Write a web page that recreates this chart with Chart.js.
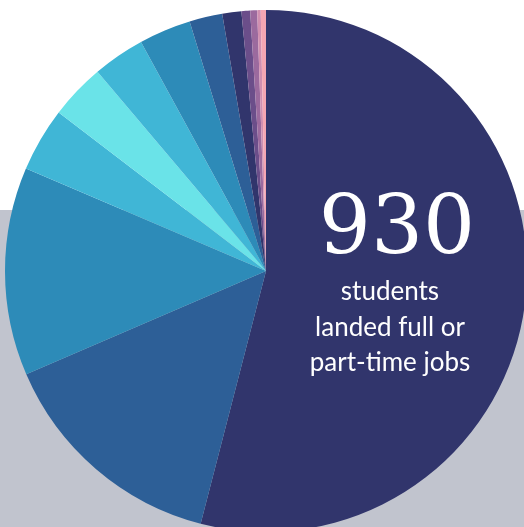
<!DOCTYPE html>
<html>
<head>
<meta charset="utf-8">
<script src="https://cdn.jsdelivr.net/npm/chart.js@4"></script>
<style>
    html, body { margin: 0; padding: 0; width: 524px; height: 527px; overflow: hidden; background: #ffffff; }
    #band { position: absolute; left: 0; top: 210px; width: 524px; height: 317px; background: #c1c4ce; }
    #wrap { position: absolute; left: 5px; top: 10px; width: 522px; height: 522px; }
    #total { position: absolute; left: 297px; top: 181px; width: 200px; text-align: center;
             font-family: "DejaVu Serif", serif; font-size: 82px; line-height: 90px; color: #ffffff; }
    #caption { position: absolute; left: 290px; top: 273px; width: 200px; text-align: center;
               font-family: "Lato", sans-serif; font-size: 26px; line-height: 35.5px; color: #ffffff; }
</style>
</head>
<body>
<div id="band"></div>
<div id="wrap"><canvas id="jobsChart" width="522" height="522"></canvas></div>
<div id="total">930</div>
<div id="caption">students<br>landed full or<br>part-time jobs</div>

<script>
// ----------------------
//  DATA
// ----------------------
const segments = ['Segment 1', 'Segment 2', 'Segment 3', 'Segment 4', 'Segment 5', 'Segment 6', 'Segment 7',
    'Segment 8', 'Segment 9', 'Segment 10', 'Segment 11', 'Segment 12', 'Segment 13'];
const students = [503, 135, 120, 37, 32, 30, 30, 19, 11, 5, 4, 2, 3];
const sliceColors = ['#31356c', '#2d5f97', '#2d8bb8', '#40b6d6', '#6ae3e8', '#40b6d6', '#2d8bb8',
    '#2d5f97', '#31356c', '#6b4e8a', '#9b6a9e', '#d08fb0', '#f4a6b3'];

// ----------------------
//  CHART
// ----------------------
let ctx = document.getElementById('jobsChart').getContext('2d');
let jobsChart = new Chart(ctx, {
    type: 'pie',
    data: {
        labels: segments,
        datasets: [{
            data: students,
            backgroundColor: sliceColors,
            borderWidth: 0,
        }]
    },
    options: {
        responsive: false,
        animation: false,
        devicePixelRatio: 1,
        layout: { padding: 0 },
        plugins: {
            legend: { display: false },
            tooltip: { enabled: false },
        },
    },
});
</script>
</body>
</html>
